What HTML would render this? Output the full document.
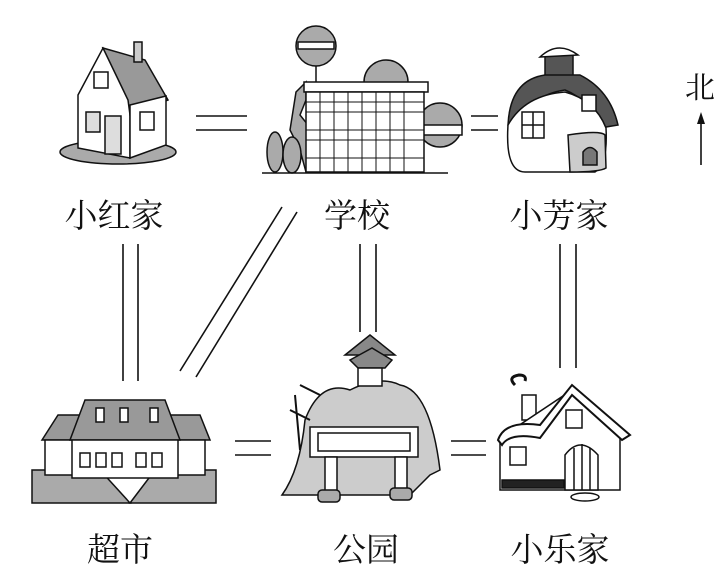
<!DOCTYPE html>
<html><head><meta charset="utf-8"><style>
html,body{margin:0;padding:0;background:#fff;}
svg{display:block;}
text{font-family:"Liberation Serif","Noto Serif CJK SC",serif;fill:#111;}
</style></head><body>
<svg width="722" height="581" viewBox="0 0 722 581" xmlns="http://www.w3.org/2000/svg">
<g stroke="#111" stroke-width="1.6" fill="none">
<line x1="196" y1="116" x2="247" y2="116"/><line x1="196" y1="130" x2="247" y2="130"/>
<line x1="471" y1="116" x2="498" y2="116"/><line x1="471" y1="130" x2="498" y2="130"/>
<line x1="123" y1="244" x2="123" y2="381"/><line x1="138" y1="244" x2="138" y2="381"/>
<line x1="282" y1="207" x2="180" y2="371"/><line x1="297" y1="212" x2="196" y2="377"/>
<line x1="360" y1="244" x2="360" y2="332"/><line x1="376" y1="244" x2="376" y2="332"/>
<line x1="560" y1="244" x2="560" y2="368"/><line x1="576" y1="244" x2="576" y2="368"/>
<line x1="235" y1="441" x2="271" y2="441"/><line x1="235" y1="455" x2="271" y2="455"/>
<line x1="451" y1="441" x2="486" y2="441"/><line x1="451" y1="455" x2="486" y2="455"/>
<line x1="701" y1="165" x2="701" y2="120"/>
</g>
<polygon points="701,112 697,124 705,124" fill="#111"/>
<text x="700" y="98" font-size="30" text-anchor="middle">北</text>

<g stroke="#111" stroke-width="1.5">
<ellipse cx="118" cy="152" rx="58" ry="12" fill="#aaa"/>
<polygon points="78,95 103,48 130,95 130,158 78,148" fill="#fff"/>
<polygon points="103,48 145,60 168,100 130,115 128,100" fill="#999"/>
<polygon points="130,105 166,96 166,145 130,158" fill="#fff"/>
<rect x="134" y="42" width="8" height="20" fill="#ccc"/>
<rect x="94" y="72" width="14" height="16" fill="#fff"/>
<rect x="86" y="112" width="14" height="20" fill="#ddd"/>
<rect x="105" y="116" width="16" height="38" fill="#ddd"/>
<rect x="140" y="112" width="14" height="18" fill="#fff"/>
</g>

<g stroke="#111" stroke-width="1.5">
<circle cx="316" cy="46" r="20" fill="#aaa"/>
<rect x="298" y="42" width="36" height="7" fill="#fff"/>
<line x1="316" y1="66" x2="316" y2="86"/>
<circle cx="386" cy="82" r="22" fill="#aaa"/>
<circle cx="440" cy="125" r="22" fill="#aaa"/>
<rect x="420" y="125" width="42" height="10" fill="#fff"/>
<path d="M296,92 L306,82 L306,100 L300,115 L320,140 L325,172 L306,172 L300,150 L290,130 Z" fill="#aaa"/>
<rect x="304" y="82" width="124" height="10" fill="#fff"/>
<rect x="306" y="92" width="118" height="80" fill="#fff"/>
<g stroke-width="1">
<line x1="306" y1="102" x2="424" y2="102"/><line x1="306" y1="112" x2="424" y2="112"/><line x1="306" y1="130" x2="424" y2="130"/><line x1="306" y1="140" x2="424" y2="140"/><line x1="306" y1="158" x2="424" y2="158"/>
<line x1="320" y1="92" x2="320" y2="172"/><line x1="334" y1="92" x2="334" y2="172"/><line x1="348" y1="92" x2="348" y2="172"/><line x1="362" y1="92" x2="362" y2="172"/><line x1="376" y1="92" x2="376" y2="172"/><line x1="390" y1="92" x2="390" y2="172"/><line x1="404" y1="92" x2="404" y2="172"/>
</g>
<ellipse cx="275" cy="152" rx="8" ry="20" fill="#aaa"/>
<ellipse cx="292" cy="155" rx="9" ry="18" fill="#aaa"/>
<line x1="262" y1="173" x2="448" y2="173"/>
</g>

<g stroke="#111" stroke-width="1.5">
<rect x="545" y="55" width="28" height="25" fill="#555"/>
<path d="M540,57 Q558,40 578,55 Z" fill="#fff"/>
<path d="M508,125 Q510,80 545,75 L580,75 Q610,90 618,125 L600,128 Q590,100 565,90 Q530,95 520,125 Z" fill="#555"/>
<path d="M508,125 Q505,172 525,172 L595,172 Q608,165 606,128 Q595,100 565,92 Q525,95 508,125 Z" fill="#fff"/>
<path d="M568,135 Q600,130 605,135 L606,168 Q600,172 570,172 Z" fill="#ccc"/>
<rect x="522" y="112" width="22" height="26" fill="#fff"/>
<line x1="533" y1="112" x2="533" y2="138"/><line x1="522" y1="125" x2="544" y2="125"/>
<rect x="582" y="95" width="14" height="16" fill="#fff"/>
<path d="M583,165 L583,152 Q590,143 597,152 L597,165 Z" fill="#777"/>
</g>

<g stroke="#111" stroke-width="1.5">
<polygon points="32,503 32,470 100,470 130,503" fill="#aaa"/>
<polygon points="130,503 155,470 216,470 216,503" fill="#aaa"/>
<polygon points="42,440 58,415 200,415 210,440" fill="#999"/>
<rect x="45" y="440" width="160" height="35" fill="#fff"/>
<polygon points="85,400 165,400 180,440 70,440" fill="#999"/>
<rect x="72" y="440" width="106" height="38" fill="#fff"/>
<g fill="#fff"><rect x="96" y="408" width="8" height="14"/><rect x="120" y="408" width="8" height="14"/><rect x="150" y="408" width="8" height="14"/>
<rect x="80" y="453" width="10" height="14"/><rect x="96" y="453" width="10" height="14"/><rect x="112" y="453" width="10" height="14"/><rect x="136" y="453" width="10" height="14"/><rect x="152" y="453" width="10" height="14"/></g>
</g>

<g stroke="#111" stroke-width="1.5">
<path d="M282,495 Q300,470 305,420 Q320,380 350,390 Q380,375 400,385 Q430,390 440,470 L430,475 L410,495 Z" fill="#ccc"/>
<polygon points="345,355 370,335 395,355" fill="#888"/>
<polygon points="350,360 372,348 392,360 385,368 358,368" fill="#888"/>
<rect x="358" y="368" width="24" height="18" fill="#fff"/>
<path d="M295,395 L300,450 M290,410 L310,420 M300,385 L320,395" stroke-width="2"/>
<rect x="310" y="427" width="108" height="30" fill="#fff"/>
<rect x="318" y="433" width="92" height="18" fill="#fff"/>
<rect x="325" y="457" width="12" height="35" fill="#fff"/><rect x="395" y="457" width="12" height="35" fill="#fff"/>
<rect x="318" y="490" width="22" height="12" rx="4" fill="#aaa"/><rect x="390" y="488" width="22" height="12" rx="4" fill="#aaa"/>
</g>

<g stroke="#111" stroke-width="1.5">
<path d="M515,385 q-8,-8 4,-10 q8,0 6,6" fill="none" stroke-width="3"/>
<rect x="522" y="395" width="14" height="25" fill="#fff"/>
<path d="M500,438 L500,490 L620,490 L620,432 L572,390 Z" fill="#fff"/>
<path d="M498,440 Q505,420 540,425 L572,385 L630,435 L622,440 L572,395 L540,438 Q510,432 502,445 Z" fill="#fff" stroke-width="2"/>
<rect x="510" y="447" width="16" height="18" fill="#fff"/>
<rect x="566" y="410" width="16" height="18" fill="#fff"/>
<path d="M565,490 L565,455 Q580,435 598,455 L598,490 Z" fill="#fff"/>
<line x1="574" y1="448" x2="574" y2="490"/><line x1="582" y1="444" x2="582" y2="490"/><line x1="590" y1="448" x2="590" y2="490"/>
<rect x="502" y="480" width="62" height="8" fill="#222"/>
<ellipse cx="585" cy="497" rx="14" ry="4" fill="#fff"/>
</g>

<g font-size="33" text-anchor="middle">
<text x="114" y="227">小红家</text>
<text x="357" y="227">学校</text>
<text x="559" y="227">小芳家</text>
<text x="120" y="561">超市</text>
<text x="366" y="561">公园</text>
<text x="560" y="561">小乐家</text>
</g>
</svg>
</body></html>
